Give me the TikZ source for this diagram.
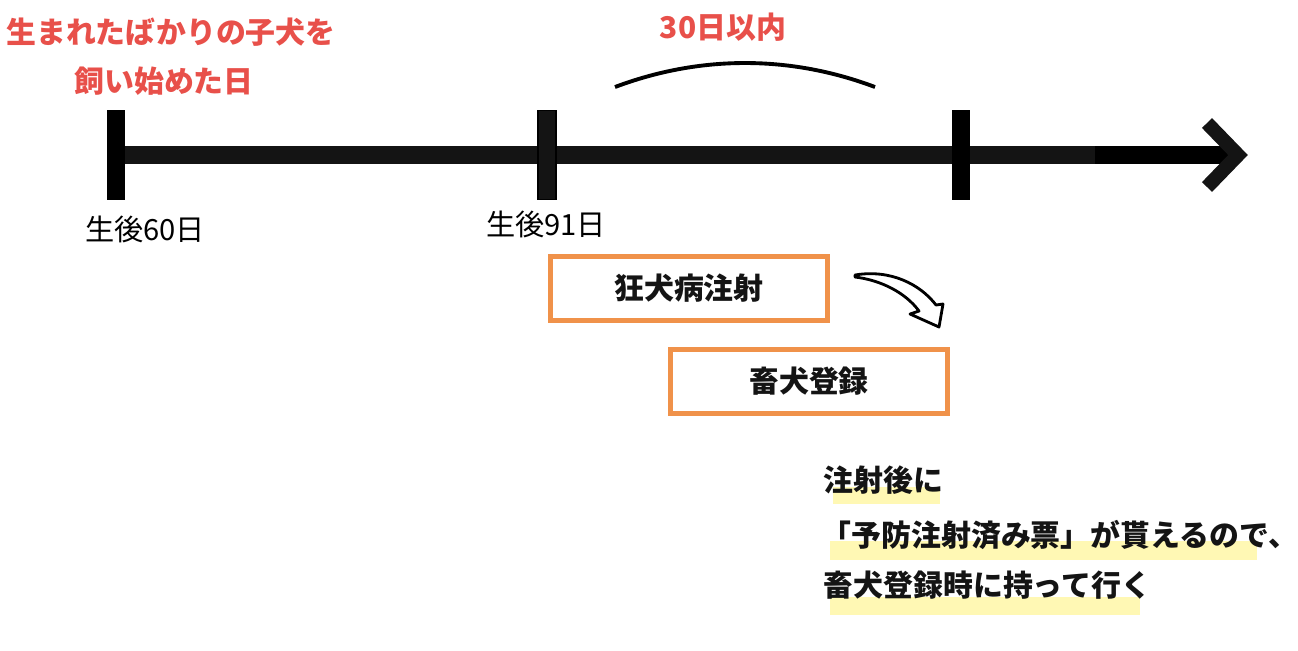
\documentclass[tikz,border=0pt]{standalone}
\usepackage{fontspec}
\newfontfamily\jp{Noto Sans CJK JP}
\usetikzlibrary{positioning}
\definecolor{redtxt}{HTML}{E8504A}
\definecolor{boxorange}{HTML}{F0924A}
\definecolor{hilite}{HTML}{FFF8B4}
\definecolor{bar}{HTML}{141414}
\begin{document}
\begin{tikzpicture}[x=0.01cm,y=-0.01cm,
  lbl/.style={font=\jp\fontsize{8.3}{10}\selectfont,inner sep=0},
  boldlbl/.style={font=\jp\bfseries\fontsize{8.5}{10}\selectfont,inner sep=0,text=bar},
  redlbl/.style={boldlbl,text=redtxt},
  tick/.style={rectangle,inner sep=0,minimum width=0.18cm,minimum height=0.89cm},
  stepbox/.style={draw=boxorange,line width=1.42pt,fill=white,inner sep=0,
    minimum width=2.77cm,minimum height=0.64cm,boldlbl}]
  \useasboundingbox (0,0) rectangle (1298,650);
  \coordinate (t60) at (116,155);
  \coordinate (t91) at (547,155);
  \coordinate (t121) at (961,155);
  \coordinate (mid) at (1095,155);
  \coordinate (head) at (1238,155);
  % timeline
  \draw[bar,line width=5.1pt] (t60) -- (mid);
  \draw[black,line width=5.3pt] (mid) -- (head);
  \draw[bar,line width=4pt,miter limit=4] (1207,123) -- (head) -- (1207,187);
  \foreach \t in {t60,t121} {
    \node[tick,fill=black] (\t box) at (\t) {};
  }
  \node[tick,fill=bar,draw=black,line width=0.4pt] (t91box) at (t91) {};
  \node[lbl] (l60) at (145,229) {生後60日};
  \node[lbl] (l91) at (546,224) {生後91日};
  % top labels
  \node[redlbl] (start1) at (171,32) {生まれたばかりの子犬を};
  \node[redlbl] (start2) at (164,81) {飼い始めた日};
  \node[redlbl] (within) at (723,27) {30日以内};
  \draw[line width=1.1pt] (615,87) .. controls (700,55) and (790,55) .. (875,87);
  % boxes
  \node[stepbox] (rabies) at (689,288.5) {狂犬病注射};
  \node[stepbox] (regist) at (809,381) {畜犬登録};
  \draw[line width=0.8pt,fill=white,line join=round]
    (855,275) .. controls (890,269) and (920,284) .. (936,305) -- (943,304)
    -- (939,327) -- (910,314) -- (919,311)
    .. controls (905,292) and (880,280) .. (855,277) -- cycle;
  % note
  \fill[hilite] (833,487) rectangle (940,504);
  \fill[hilite] (830,541) rectangle (1257,560);
  \fill[hilite] (830,597) rectangle (1140,615);
  \node[boldlbl,anchor=west] (note1) at (823,480) {注射後に};
  \node[boldlbl,anchor=west] (note2) at (821,535) {「予防注射済み票」が貰えるので、};
  \node[boldlbl,anchor=west] (note3) at (823,585) {畜犬登録時に持って行く};
\end{tikzpicture}
\end{document}
